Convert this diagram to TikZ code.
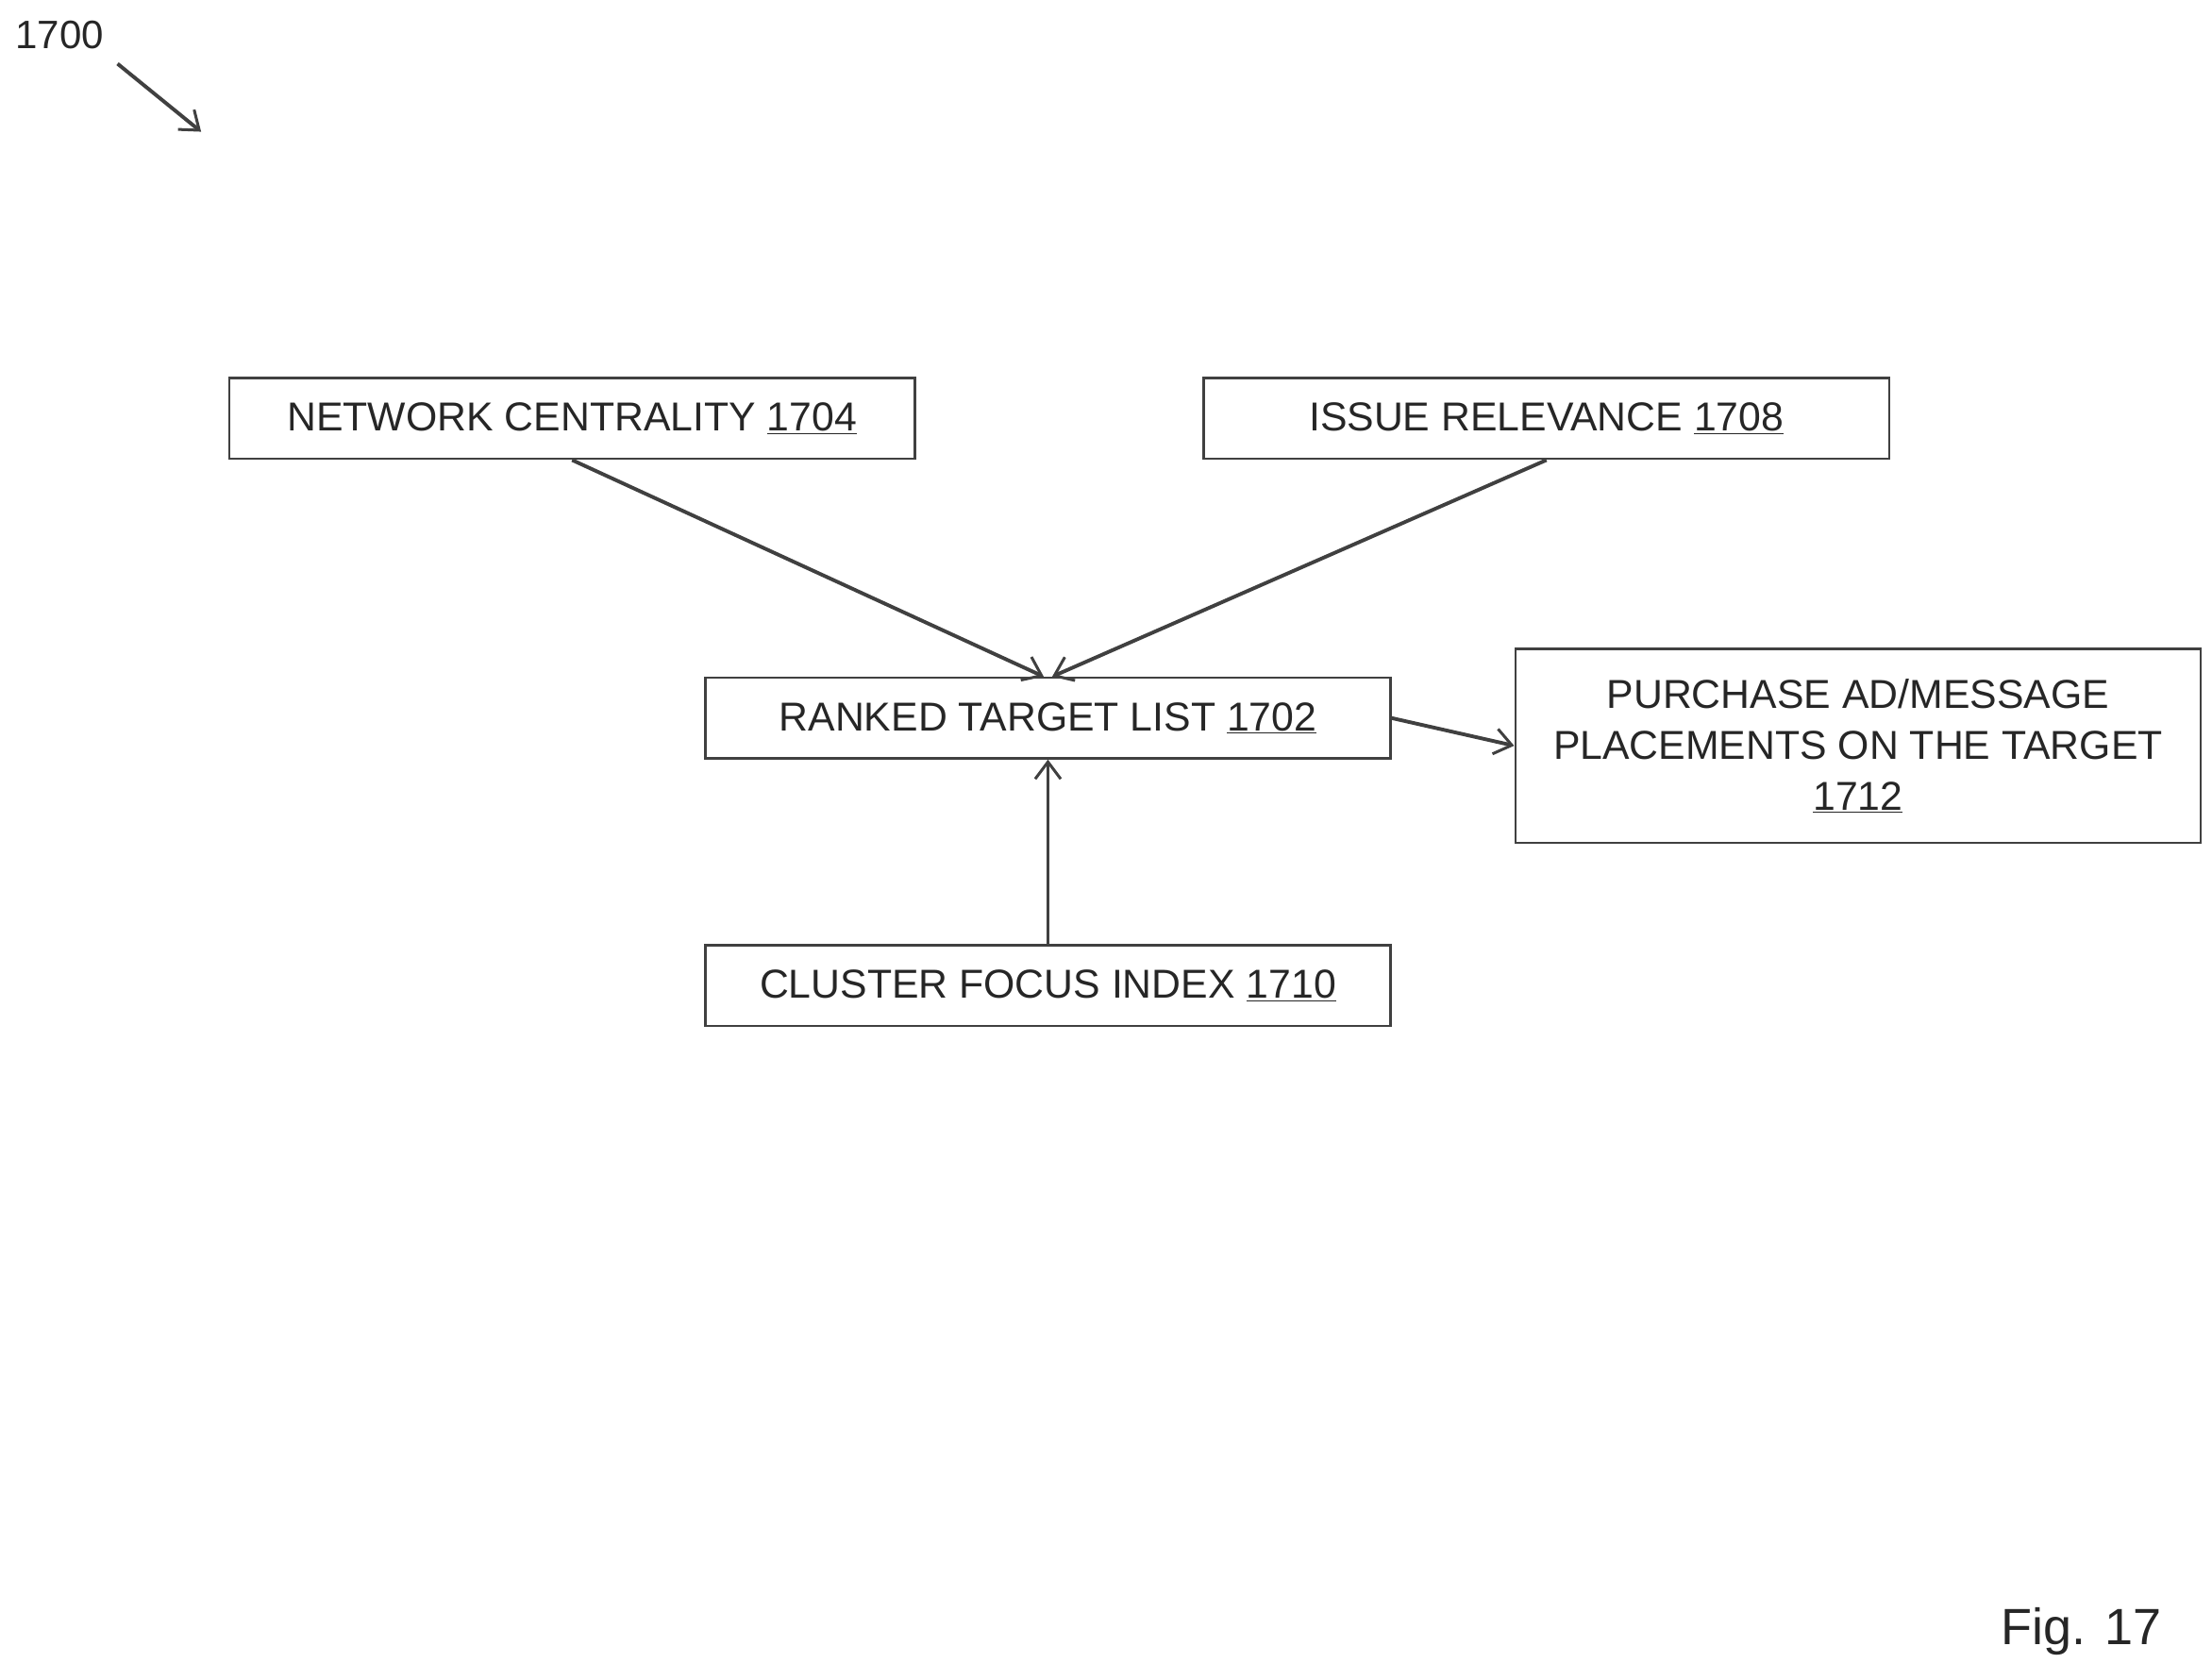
\documentclass[tikz,border=0pt]{standalone}
\usepackage{fontspec}
\setmainfont{Liberation Sans}
\usetikzlibrary{arrows.meta}
\newcommand{\ul}[1]{\underline{#1}}
\begin{document}
\begin{tikzpicture}[x=1pt,y=-1pt,
  box/.style={draw=black!75,line width=1.6pt,minimum width=484pt,minimum height=57pt,inner sep=0pt,font=\fontsize{28.5}{36}\selectfont,text=black!85,align=center},
  arr/.style={draw=black!75,line width=2.6pt,-{Straight Barb[length=12pt,width=18pt,line width=2pt]}}]
\useasboundingbox (0,0) rectangle (1562,1186);
\node[box] (nc) at (404,295.5) {NETWORK CENTRALITY \ul{1704}};
\node[box] (ir) at (1092,295.5) {ISSUE RELEVANCE \ul{1708}};
\node[box] (rt) at (740,507) {RANKED TARGET LIST \ul{1702}};
\node[box,minimum height=137pt] (pp) at (1312,526.5) {PURCHASE AD/MESSAGE\\PLACEMENTS ON THE TARGET\\\ul{1712}};
\node[box] (cf) at (740,696) {CLUSTER FOCUS INDEX \ul{1710}};
\node[font=\fontsize{28}{34}\selectfont,text=black!85] (lab) at (42,25) {1700};
\coordinate (la) at (83,45);
\coordinate (lb) at (142,93);
\draw[arr] (la) -- (lb);
\draw[arr] (nc.south) -- ([xshift=-3pt]rt.north);
\draw[arr] (ir.south) -- ([xshift=3pt]rt.north);
\draw[arr] (cf.north) -- (rt.south);
\draw[arr] (rt.east) -- (pp.west);
\node[font=\fontsize{36}{43}\selectfont,text=black!85] (fig) at (1470,1152) {Fig. 17};
\end{tikzpicture}
\end{document}
